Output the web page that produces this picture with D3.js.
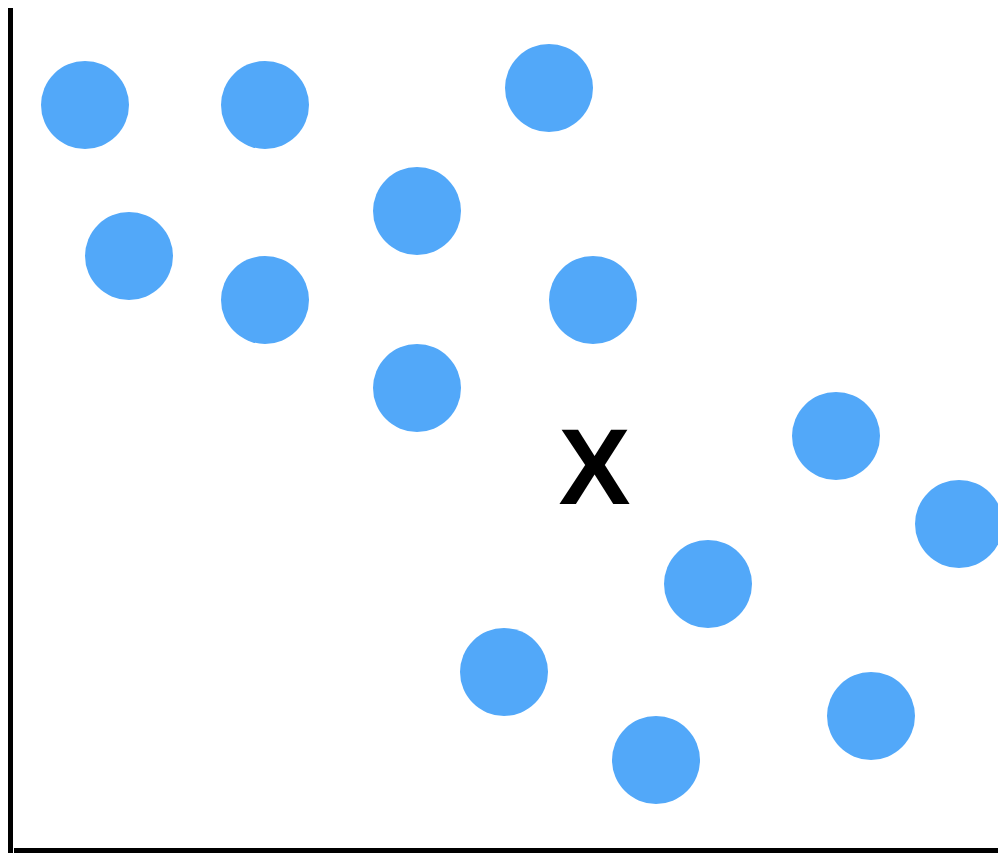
<!DOCTYPE html>
<html lang="en">
<head>
    <meta charset="UTF-8">
    <title> Scatter X </title>
    <script type="text/javascript" src="https://cdn.jsdelivr.net/npm/d3@7"></script>
    <style type="text/css">
        body { margin: 0; background: #fff; }
    </style>
</head>
<body>
    <script type="text/javascript">
        //Width and height
        var w = 998;
        var h = 853;

        //Point positions (x right, y up from the x axis)
        var xValues = [85, 265, 549, 129, 265, 417, 593, 417, 836, 959, 708, 504, 656, 871];
        var yValues = [745, 745, 762, 594, 550, 639, 550, 462, 414, 326, 266, 178, 90, 134];

        //Marker label
        var markerLabel = "X";
        var markerX = 594.5;
        var markerY = 346;

        var dataset = xValues.map(function(d, i) { return [d, yValues[i]]; });

        //Create scale functions
        var xScale = d3.scaleLinear()
            .domain([0, 1000])
            .range([0, 1000]);

        var yScale = d3.scaleLinear()
            .domain([0, 850])
            .range([850, 0]);

        //Create SVG element
        var svg = d3.select("body")
            .append("svg")
            .attr("width", w)
            .attr("height", h);

        //Axes
        svg.append("line")
            .attr("x1", 10.5).attr("x2", 10.5)
            .attr("y1", 8).attr("y2", h)
            .attr("stroke", "#000")
            .attr("stroke-width", 5);

        svg.append("line")
            .attr("x1", 14).attr("x2", w)
            .attr("y1", 850.5).attr("y2", 850.5)
            .attr("stroke", "#000")
            .attr("stroke-width", 5);

        //Create circles
        svg.selectAll("circle")
            .data(dataset)
            .enter()
            .append("circle")
            .attr("cx", function(d) { return xScale(d[0]); })
            .attr("cy", function(d) { return yScale(d[1]); })
            .attr("r", 44)
            .attr("fill", "#52a8f9");

        //Label
        svg.append("text")
            .text(markerLabel)
            .attr("x", xScale(markerX))
            .attr("y", yScale(markerY))
            .attr("text-anchor", "middle")
            .attr("font-family", "Liberation Sans, Arial, sans-serif")
            .attr("font-weight", "bold")
            .attr("font-size", "108px")
            .attr("fill", "#000");
    </script>
</body>
</html>
